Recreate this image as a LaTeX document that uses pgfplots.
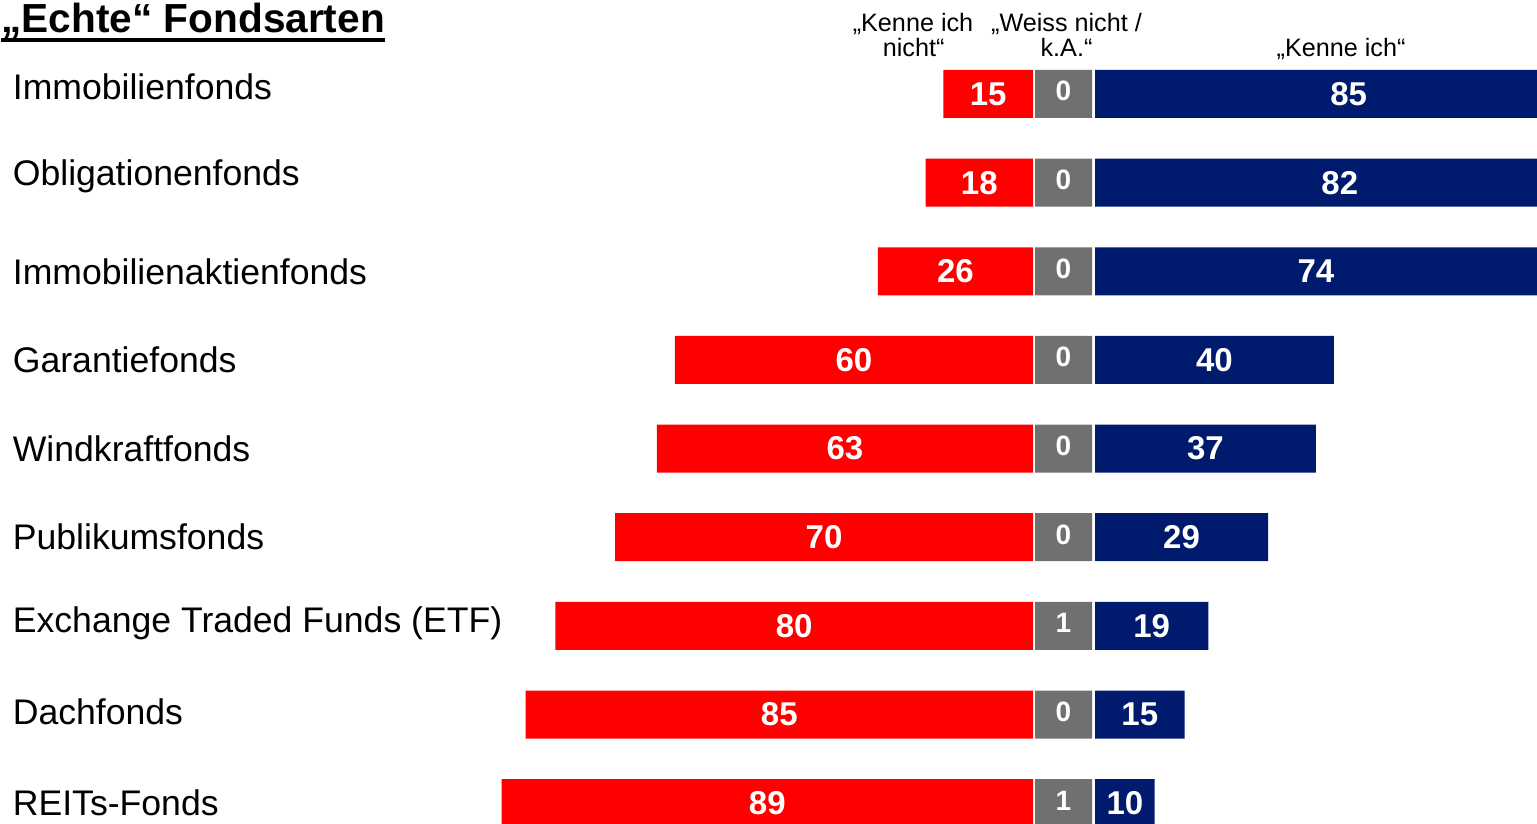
\documentclass[border=0pt]{standalone}
\usepackage{fontspec}
\setmainfont{Liberation Sans}
\usepackage{pgfplots}
\usepackage{pgfplotstable}
\pgfplotsset{compat=1.18}
\definecolor{cred}{HTML}{FF0000}
\definecolor{cgray}{HTML}{707070}
\definecolor{cblue}{HTML}{001A6E}
\newcommand\ul[1]{\setbox0\hbox{#1}\rlap{\rule[-4.3pt]{\wd0}{2pt}}\box0}
\pgfplotstableread{
red gray blue
15 0 85
18 0 82
26 0 74
60 0 40
63 0 37
70 0 29
80 1 19
85 0 15
89 1 10
}\data
\pgfplotsset{
  common/.style={
    at={(0,0)}, anchor=south west,
    scale only axis, width=768.5pt, height=412pt,
    xmin=-173.03, xmax=84.42, ymin=-0.0603, ymax=9.2347, y dir=reverse,
  }
}
\begin{document}
\begin{tikzpicture}
\useasboundingbox (0,0) rectangle (768.5pt,412pt);
\clip (0,0) rectangle (768.5pt,412pt);
% left: "Kenne ich nicht"
\begin{axis}[common,
  xbar, bar width=24pt,
  axis line style={draw=none}, tick style={draw=none},
  xtick=\empty,
  ytick={0.92,1.93,3,4,5,6,6.97,7.97,9},
  yticklabels={Immobilienfonds,Obligationenfonds,Immobilienaktienfonds,Garantiefonds,Windkraftfonds,Publikumsfonds,Exchange Traded Funds (ETF),Dachfonds,REITs-Fonds},
  yticklabel style={anchor=west, xshift=10.5pt, inner sep=0pt, font=\fontsize{17.8}{21}\selectfont, text=black},
]
\addplot[fill=cred, draw=none] table[x expr=-\thisrow{red}, y expr=\coordindex+1] {\data};
\end{axis}
% right: "Weiss nicht / k.A." column and "Kenne ich"
\begin{axis}[common, hide axis,
  xbar stacked, bar width=24pt,
]
\addplot[fill=none, draw=none] table[x expr=0.335, y expr=\coordindex+1] {\data};
\addplot[fill=cgray, draw=none] table[x expr=9.545, y expr=\coordindex+1] {\data};
\addplot[fill=none, draw=none] table[x expr=0.505, y expr=\coordindex+1] {\data};
\addplot[fill=cblue, draw=none] table[x=blue, y expr=\coordindex+1] {\data};
\end{axis}
% value labels and headers
\begin{axis}[common, hide axis, clip=false,
  nodes near coords, point meta=explicit symbolic,
  every node near coord/.append style={anchor=center, inner sep=0pt, text=white},
]
\addplot[only marks, mark=*, mark size=0pt, mark options={draw=none,fill=none},
  every node near coord/.append style={font=\fontsize{16.5}{18}\selectfont\bfseries}]
  table[x expr=-0.5*\thisrow{red}, y expr=\coordindex+1, meta=red] {\data};
\addplot[only marks, mark=*, mark size=0pt, mark options={draw=none,fill=none},
  every node near coord/.append style={font=\fontsize{14}{16}\selectfont\bfseries}]
  table[x expr=5.1075, y expr=\coordindex+0.97, meta=gray] {\data};
\addplot[only marks, mark=*, mark size=0pt, mark options={draw=none,fill=none},
  every node near coord/.append style={font=\fontsize{16.5}{18}\selectfont\bfseries}]
  table[x expr=10.385+0.5*\thisrow{blue}, y expr=\coordindex+1, meta=blue] {\data};
\node[anchor=base west, inner sep=0pt, font=\fontsize{20.3}{24}\selectfont\bfseries] at (axis cs:-172.86,0.312) {\ul{„Echte“ Fondsarten}};
\node[anchor=base, inner sep=0pt, font=\fontsize{12.6}{14}\selectfont] at (axis cs:-20.1,0.3006) {„Kenne ich};
\node[anchor=base, inner sep=0pt, font=\fontsize{12.6}{14}\selectfont] at (axis cs:-20.0,0.5826) {nicht“};
\node[anchor=base, inner sep=0pt, font=\fontsize{12.6}{14}\selectfont] at (axis cs:5.61,0.3006) {„Weiss nicht /};
\node[anchor=base, inner sep=0pt, font=\fontsize{12.6}{14}\selectfont] at (axis cs:5.61,0.5826) {k.A.“};
\node[anchor=base, inner sep=0pt, font=\fontsize{12.6}{14}\selectfont] at (axis cs:51.6,0.5826) {„Kenne ich“};
\end{axis}
\end{tikzpicture}
\end{document}
